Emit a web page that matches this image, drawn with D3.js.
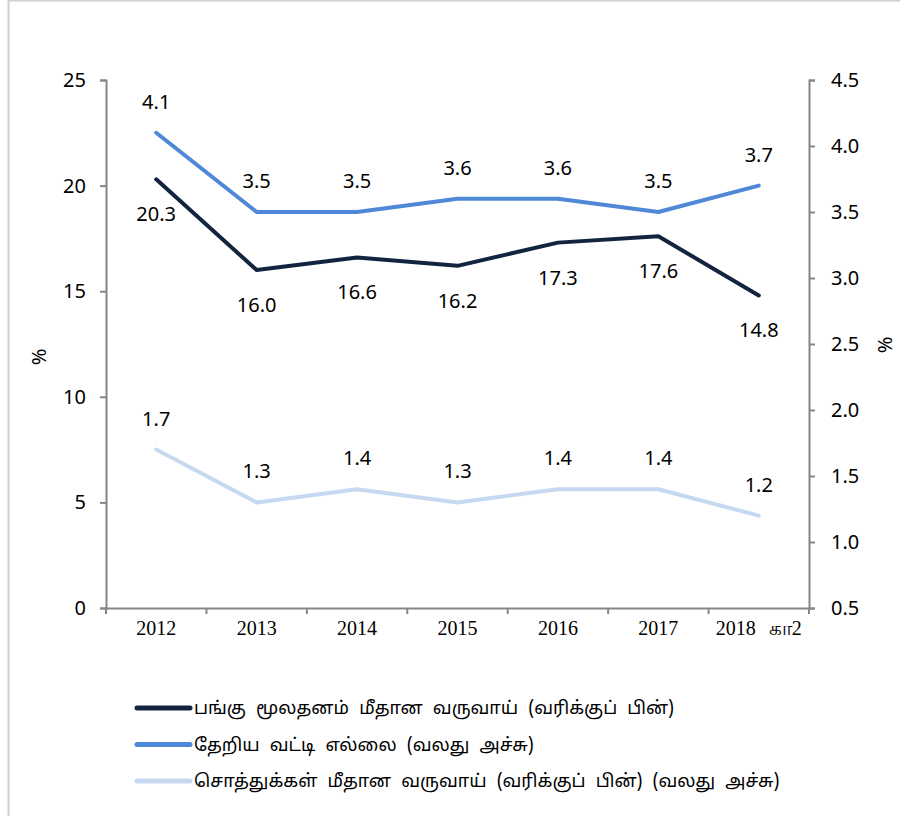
<!DOCTYPE html>
<html>
<head>
<meta charset="utf-8">
<script src="https://cdn.jsdelivr.net/npm/d3@7"></script>
<style>
  html, body { margin: 0; padding: 0; background: #fff; }
  svg { display: block; }
</style>
</head>
<body>
<svg id="chart" width="900" height="816"></svg>
<script>
// Years on the category axis
const categories = ["2012", "2013", "2014", "2015", "2016", "2017", "2018 கா2"];
// Return on equity (left axis, %)
const equityReturn = [20.3, 16.0, 16.6, 16.2, 17.3, 17.6, 14.8];
// Interest margin (right axis, %)
const interestMargin = [4.1, 3.5, 3.5, 3.6, 3.6, 3.5, 3.7];
// Return on assets (right axis, %)
const assetReturn = [1.7, 1.3, 1.4, 1.3, 1.4, 1.4, 1.2];

const leftTicks = [0, 5, 10, 15, 20, 25];
const rightTicks = [0.5, 1.0, 1.5, 2.0, 2.5, 3.0, 3.5, 4.0, 4.5];

const legendLabels = [
  "பங்கு மூலதனம் மீதான வருவாய் (வரிக்குப் பின்)",
  "தேறிய வட்டி எல்லை (வலது அச்சு)",
  "சொத்துக்கள் மீதான வருவாய் (வரிக்குப் பின்) (வலது அச்சு)"
];

const colors = ["#13243f", "#4f88d6", "#c6d9f1"];
const sansFont = "'Noto Sans', 'Open Sans', 'Liberation Sans', sans-serif";
const serifFont = "'Liberation Serif', 'Noto Serif', 'DejaVu Serif', serif";
const tamilFont = "'Noto Sans Tamil', 'Latha', 'Noto Serif Tamil', 'Noto Sans', serif";

const svg = d3.select("#chart");

// outer frame
svg.append("rect")
  .attr("x", 8.5).attr("y", 0.5)
  .attr("width", 1000).attr("height", 1000)
  .attr("fill", "none").attr("stroke", "#d0d0d0").attr("stroke-width", 2);

const plot = { left: 106, right: 809, top: 80, bottom: 608 };

const x = d3.scaleBand().domain(categories).range([plot.left, plot.right]);
const yLeft = d3.scaleLinear().domain([0, 25]).range([plot.bottom, plot.top]);
const yRight = d3.scaleLinear().domain([0.5, 4.5]).range([plot.bottom, plot.top]);
const cx = c => x(c) + x.bandwidth() / 2;

const axisColor = "#868686";

// left axis
const gL = svg.append("g").attr("transform", `translate(${plot.left},0)`)
  .call(d3.axisLeft(yLeft).tickValues(leftTicks).tickSize(6).tickPadding(14).tickFormat(d3.format("d")));
// right axis
const gR = svg.append("g").attr("transform", `translate(${plot.right},0)`)
  .call(d3.axisRight(yRight).tickValues(rightTicks).tickSize(6).tickPadding(16).tickFormat(d3.format(".1f")));
// category axis, ticks on the band boundaries
const gX = svg.append("g").attr("transform", `translate(0,${plot.bottom})`)
  .call(d3.axisBottom(x).tickSize(0).tickPadding(13));

[gL, gR].forEach(g => {
  g.select(".domain").attr("stroke", axisColor).attr("stroke-width", 2);
  g.selectAll(".tick line").attr("stroke", axisColor).attr("stroke-width", 2);
  g.selectAll(".tick text").attr("fill", "#000").style("font-family", sansFont).style("font-size", "20px");
});
gX.select(".domain").attr("stroke", axisColor).attr("stroke-width", 2);
gX.selectAll(".tick text").attr("fill", "#000").style("font-family", serifFont).style("font-size", "20px")
  .style("word-spacing", "8px")
  .attr("dy", "0.71em");

const boundaries = categories.map(c => x(c)).concat([x(categories[categories.length - 1]) + x.bandwidth()]);
gX.selectAll("line.bound").data(boundaries).enter().append("line")
  .attr("class", "bound")
  .attr("x1", d => d).attr("x2", d => d)
  .attr("y1", 0).attr("y2", 6)
  .attr("stroke", axisColor).attr("stroke-width", 2);

// axis titles
svg.append("text").attr("transform", "translate(46,357) rotate(-90)")
  .attr("text-anchor", "middle").style("font-family", sansFont).style("font-size", "20px").text("%");
svg.append("text").attr("transform", "translate(892,345) rotate(-90)")
  .attr("text-anchor", "middle").style("font-family", sansFont).style("font-size", "20px").text("%");

const series = [
  { values: equityReturn, y: yLeft, color: colors[0], offset: 42, fmt: d3.format(".1f") },
  { values: interestMargin, y: yRight, color: colors[1], offset: -24, fmt: d3.format(".1f") },
  { values: assetReturn, y: yRight, color: colors[2], offset: -24, fmt: d3.format(".1f") }
];

// draw lighter lines first so the dark line sits on top
[2, 1, 0].forEach(i => {
  const s = series[i];
  const line = d3.line().x((d, j) => cx(categories[j])).y(d => s.y(d));
  svg.append("path").datum(s.values)
    .attr("d", line).attr("fill", "none")
    .attr("stroke", s.color).attr("stroke-width", 4)
    .attr("stroke-linejoin", "round").attr("stroke-linecap", "round");
});

series.forEach(s => {
  svg.append("g").selectAll("text").data(s.values).enter().append("text")
    .attr("x", (d, j) => cx(categories[j]))
    .attr("y", d => s.y(d) + s.offset)
    .attr("text-anchor", "middle")
    .style("font-family", sansFont).style("font-size", "20px").attr("fill", "#000")
    .text(d => s.fmt(d));
});

// legend
const legend = svg.append("g");
legendLabels.forEach((label, i) => {
  const yy = 708 + i * 36.5;
  legend.append("line")
    .attr("x1", 137).attr("x2", 190).attr("y1", yy).attr("y2", yy)
    .attr("stroke", colors[i]).attr("stroke-width", 5).attr("stroke-linecap", "round");
  legend.append("text")
    .attr("x", 194).attr("y", yy).attr("dy", "0.35em")
    .style("font-family", tamilFont).style("font-size", "18px").attr("fill", "#000")
    .style("word-spacing", "5.5px")
    .text(label);
});
</script>
</body>
</html>
